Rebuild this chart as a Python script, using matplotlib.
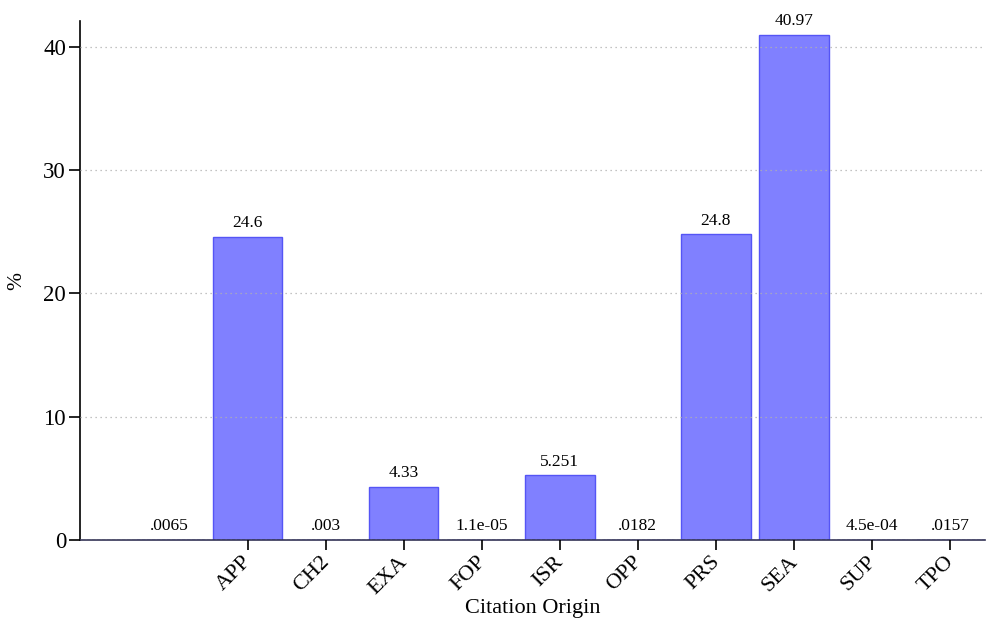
import matplotlib.pyplot as plt
from matplotlib.transforms import ScaledTranslation

plt.rcParams['font.family'] = ['Liberation Serif', 'DejaVu Serif']

# 数据
categories = ['', 'APP', 'CH2', 'EXA', 'FOP', 'ISR', 'OPP', 'PRS', 'SEA', 'SUP', 'TPO']
values = [0.0065, 24.6, 0.003, 4.33, 1.1e-05, 5.251, 0.0182, 24.8, 40.97, 4.5e-04, 0.0157]
labels = ['.0065', '24.6', '.003', '4.33', '1.1e-05', '5.251', '.0182', '24.8', '40.97', '4.5e-04', '.0157']

fig = plt.figure(figsize=(9.89, 6.18), dpi=100)
ax = fig.add_axes([80 / 989, 78 / 618, 905 / 989, 519 / 618])

x = list(range(len(categories)))
bars = ax.bar(x, values, width=0.89, color='#8080ff', edgecolor='#5555f5', linewidth=1)

# 柱子上方的数值
for xi, v, lab in zip(x, values, labels):
    ax.annotate(lab, (xi, v), xytext=(0, 4), textcoords='offset points',
                ha='center', va='bottom', fontsize=12.5)

ax.set_xlim(-1.15, 10.45)
ax.set_ylim(0, 42.1)
ax.set_yticks([0, 10, 20, 30, 40])
ax.set_xticks(x[1:])
ax.set_xticklabels(categories[1:], rotation=45, ha='right', rotation_mode='anchor')
ax.tick_params(axis='y', direction='out', length=8, width=1.2, labelsize=16.5, pad=2)
ax.tick_params(axis='x', direction='out', length=7, width=1.2, labelsize=16, pad=3)
# 标签稍微往左移
shift = ScaledTranslation(-4 / 72, 1 / 72, fig.dpi_scale_trans)
for t in ax.get_xticklabels():
    t.set_transform(t.get_transform() + shift)

# 网格与坐标轴
ax.yaxis.grid(True, linestyle=(0, (1, 3)), color='#b0b0b0', linewidth=0.9)
ax.set_axisbelow(False)
ax.spines['top'].set_visible(False)
ax.spines['right'].set_visible(False)
ax.spines['left'].set_linewidth(1.2)
ax.spines['bottom'].set_color('#333355')
ax.spines['bottom'].set_linewidth(1.2)

ax.set_xlabel('Citation Origin', fontsize=16)
ax.xaxis.set_label_coords(0.5, -0.113)
ax.set_ylabel('%', fontsize=15.5, labelpad=12)

fig.savefig('out.png', dpi=100)
